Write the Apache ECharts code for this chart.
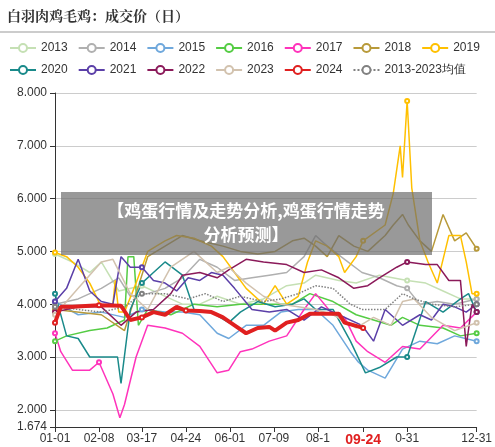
<!DOCTYPE html>
<html><head><meta charset="utf-8">
<script src="https://cdn.jsdelivr.net/npm/echarts@6/dist/echarts.min.js"></script>
<style>html,body{margin:0;padding:0;background:#fff}#c{width:495px;height:447px}</style>
</head><body><div id="c"></div>
<script>
const dayLabels = {0:'01-01',38:'02-08',75:'03-17',113:'04-24',151:'06-01',189:'07-09',227:'08-1',266:'09-24',304:'0-31',364:'12-31'};
const seriesNames = ['2013','2014','2015','2016','2017','2018','2019','2020','2021','2022','2023','2024','2013-2023均值'];
const s2013 = [[0,4.95],[15,4.8],[30,4.6],[40,4.8],[55,4.25],[75,4.35],[90,4.2],[110,4.0],[125,4.0],[140,4.15],[160,4.0],[180,4.1],[200,4.35],[215,4.4],[225,4.55],[245,4.45],[260,4.4],[280,4.55],[304,4.45],[320,4.4],[335,4.25],[350,4.1],[364,4.1]];
const s2014 = [[0,4.0],[20,4.1],[40,4.3],[55,4.5],[65,4.15],[80,4.2],[95,4.3],[110,4.5],[125,4.85],[140,4.7],[155,4.45],[170,4.5],[185,4.55],[200,4.6],[215,4.9],[225,5.3],[235,5.1],[250,4.85],[265,4.6],[280,4.5],[295,4.35],[304,4.3],[315,4.0],[330,4.05],[345,4.0],[364,4.1]];
const s2015 = [[0,4.05],[20,3.8],[40,3.85],[60,3.75],[75,3.9],[95,3.85],[110,3.85],[125,3.8],[140,3.45],[150,3.35],[165,3.6],[180,3.6],[195,3.85],[210,3.9],[225,3.9],[240,3.6],[255,3.1],[262,2.9],[270,2.75],[285,2.6],[300,3.15],[315,3.3],[330,3.25],[345,3.4],[364,3.3]];
const s2016 = [[0,3.3],[10,3.4],[30,3.5],[45,3.55],[60,3.7],[63,4.9],[68,4.9],[72,3.6],[80,3.9],[100,3.8],[120,4.0],[140,3.95],[160,4.0],[175,4.0],[190,4.0],[205,4.0],[220,4.2],[240,4.05],[260,3.8],[275,3.7],[290,3.6],[300,3.75],[315,3.6],[335,3.55],[350,3.4],[364,3.45]];
const s2017 = [[0,3.45],[5,3.1],[15,2.75],[30,2.75],[38,2.9],[50,2.3],[56,1.85],[60,2.1],[70,3.0],[80,3.6],[95,3.55],[110,3.45],[125,3.2],[140,2.7],[150,2.75],[160,3.1],[170,3.15],[185,3.3],[200,3.4],[215,3.9],[225,4.2],[240,3.8],[250,3.75],[260,3.3],[270,3.1],[285,2.9],[300,3.2],[315,3.15],[335,3.6],[350,3.55],[364,3.85]];
const s2018 = [[0,3.9],[40,3.8],[60,3.5],[70,4.2],[80,4.9],[95,5.1],[110,5.3],[125,5.2],[145,5.1],[160,5.0],[175,4.95],[190,5.0],[205,5.2],[215,5.25],[225,5.1],[235,4.9],[245,5.3],[258,5.1],[270,5.0],[285,5.3],[292,5.5],[300,5.7],[305,5.5],[315,5.2],[325,5.0],[335,5.7],[345,5.2],[355,5.35],[364,5.05]];
const s2019 = [[0,4.98],[10,4.9],[20,4.7],[30,4.4],[40,3.95],[50,4.0],[52,4.45],[55,3.85],[60,3.85],[70,4.4],[80,5.0],[95,5.2],[105,5.3],[120,5.25],[135,5.1],[145,4.9],[155,4.6],[165,4.3],[180,4.0],[190,4.35],[200,4.0],[210,4.15],[218,4.8],[225,5.2],[235,5.1],[245,4.9],[250,4.6],[260,4.9],[266,5.2],[285,5.5],[292,6.1],[298,7.0],[300,6.4],[304,7.85],[308,6.2],[315,5.2],[322,4.8],[330,4.4],[340,5.3],[350,5.3],[355,4.8],[360,4.2],[364,4.2]];
const s2020 = [[0,4.2],[10,3.4],[20,3.35],[30,3.0],[40,3.0],[54,3.0],[57,2.5],[65,3.9],[75,4.4],[85,4.6],[95,4.8],[110,4.55],[120,3.9],[135,3.85],[150,3.65],[160,3.85],[175,4.05],[190,3.95],[205,4.0],[215,4.1],[225,3.9],[240,3.9],[255,3.3],[268,2.7],[280,2.8],[295,3.0],[304,3.0],[320,4.05],[335,3.85],[350,4.1],[357,4.2],[364,3.85]];
const s2021 = [[0,4.05],[10,4.3],[20,4.85],[30,4.25],[40,4.05],[50,4.0],[57,4.9],[65,4.7],[75,4.7],[85,4.45],[95,4.4],[105,4.25],[115,4.5],[125,4.45],[135,4.6],[145,4.55],[155,4.3],[170,3.9],[185,3.85],[200,3.9],[215,3.7],[230,3.95],[245,3.8],[265,3.6],[275,3.3],[285,3.9],[300,3.6],[315,3.8],[325,3.7],[335,4.0],[345,3.95],[355,3.85],[364,4.0]];
const s2022 = [[0,3.85],[20,3.95],[40,3.95],[57,3.6],[70,3.85],[85,3.9],[100,4.2],[110,4.55],[125,4.6],[140,4.5],[150,4.65],[165,4.85],[180,4.8],[200,4.75],[215,4.6],[230,4.65],[245,4.5],[258,4.3],[270,4.35],[280,4.5],[295,4.7],[304,4.8],[320,4.75],[330,4.75],[340,4.45],[350,4.45],[355,3.2],[360,4.0],[364,3.85]];
const s2023 = [[0,3.8],[20,4.3],[40,4.8],[50,4.85],[65,4.2],[80,3.9],[100,4.7],[120,5.0],[140,4.6],[150,4.7],[165,4.4],[180,4.15],[195,4.0],[210,3.95],[225,3.9],[240,3.8],[260,3.55],[275,3.75],[290,3.6],[300,4.05],[310,4.1],[325,3.75],[345,3.5],[364,3.65]];
const s2024 = [[0,3.65],[5,3.95],[15,3.95],[38,3.98],[57,3.97],[65,3.7],[75,3.75],[85,3.85],[95,3.8],[105,3.95],[113,3.88],[125,3.87],[135,3.85],[145,3.75],[155,3.6],[165,3.45],[175,3.55],[185,3.57],[190,3.5],[200,3.65],[210,3.7],[220,3.82],[230,3.82],[245,3.82],[250,3.65],[266,3.55]];
const sAvg = [[0,3.95],[20,3.9],[40,3.85],[60,3.95],[75,4.2],[95,4.2],[115,4.1],[130,4.2],[145,4.05],[160,4.15],[180,4.05],[195,4.1],[210,4.2],[225,4.35],[240,4.3],[255,4.0],[265,3.9],[285,3.9],[300,4.2],[310,4.1],[325,4.0],[345,3.95],[364,4.0]];
const colors = ['#c5e0b4','#b0b0b0','#6fa8dc','#55cc44','#ff33bb','#b89a3a','#ffc000','#1a8a8a','#5b3fa8','#8b1a5a','#d2c2ae','#e02020','#808080'];
const allData = [s2013,s2014,s2015,s2016,s2017,s2018,s2019,s2020,s2021,s2022,s2023,s2024,sAvg];

const cats = [];
for (let i=0;i<365;i++){const d=new Date(2021,0,1+i);cats.push(String(d.getMonth()+1).padStart(2,'0')+'-'+String(d.getDate()).padStart(2,'0'));}
const tickSet = new Set(Object.keys(dayLabels).map(Number));

const series = allData.map((d,i)=>{
  const isRed = i===11, isAvg = i===12;
  const s = {
    name: seriesNames[i], type:'line', data:d, z: isRed?10:2,
    symbol:'emptyCircle',
    symbolSize:(v)=> Array.isArray(v) ? (tickSet.has(v[0])?4:0) : 8,
    showAllSymbol:true,
    lineStyle:{width:isRed?4:1.5,color:colors[i],type:isAvg?'dotted':'solid'},
    itemStyle:{color:colors[i]},
    emphasis:{disabled:true}
  };
  if (isRed) s.markLine = {silent:true,symbol:'none',data:[{yAxis:3.41}],lineStyle:{opacity:0},
    label:{position:'start',formatter:'3.410',color:'#e02020',fontWeight:'bold',fontSize:14,backgroundColor:'#fff',borderColor:'#e02020',borderWidth:1,borderRadius:2,padding:[3,4],distance:6}};
  return s;
});

const chart = echarts.init(document.getElementById('c'));
chart.setOption({
  animation:false,
  title:{text:'白羽肉鸡毛鸡：成交价（日）',left:2,top:4,textStyle:{fontSize:14,fontWeight:'bold',color:'#333',fontFamily:'Noto Serif CJK SC, Noto Sans CJK SC, serif'}},
  legend:{data:seriesNames,top:37,left:4,width:490,itemWidth:26,itemHeight:10,itemGap:10,
    textStyle:{fontSize:12,color:'#333'}},
  graphic:[
    {type:'line',shape:{x1:0,y1:32,x2:495,y2:32},style:{stroke:'#999',lineWidth:1}},
    {type:'rect',shape:{x:61,y:192,width:371,height:63},style:{fill:'rgba(110,110,110,0.7)'},z:100},
    {type:'text',x:246,y:223,z:101,style:{text:'【鸡蛋行情及走势分析,鸡蛋行情走势\n分析预测】',fill:'#fff',font:'bold 17px "Noto Sans CJK SC"',align:'center',verticalAlign:'middle',lineHeight:24}}
  ],
  grid:{left:55,right:17,top:93,bottom:20},
  xAxis:{type:'category',data:cats,boundaryGap:false,
    axisLine:{lineStyle:{color:'#333'}},
    axisTick:{interval:(i)=>tickSet.has(i),lineStyle:{color:'#333'}},
    axisLabel:{interval:(i)=>tickSet.has(i),formatter:(v,i)=> i===266?'{r|09-24}':dayLabels[i],color:'#333',fontSize:12,margin:6,
      rich:{r:{color:'#e02020',fontWeight:'bold',fontSize:14}}},
    splitLine:{show:false}},
  yAxis:{type:'value',min:1.674,max:8,
    axisLine:{show:true,lineStyle:{color:'#333'}},axisTick:{show:true},
    axisLabel:{formatter:(v)=>v.toFixed(3),color:'#333',fontSize:12},
    splitLine:{lineStyle:{color:'#ccc'}}},
  series
});
</script></body></html>
